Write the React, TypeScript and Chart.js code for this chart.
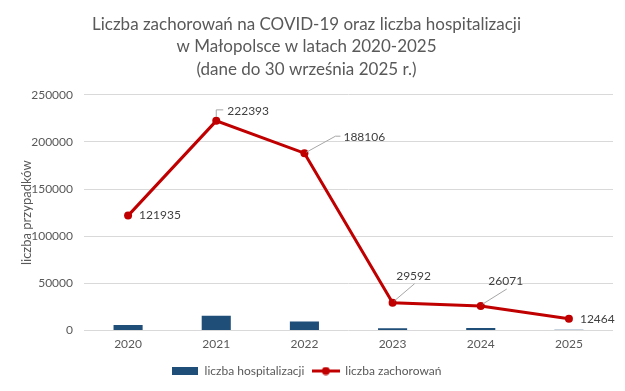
import React, { useEffect, useRef } from "react";
import { Chart, registerables } from "chart.js";

Chart.register(...registerables);

const years = ["2020", "2021", "2022", "2023", "2024", "2025"];
const hospitalizations = [6000, 15800, 9600, 2600, 2700, 800];
const cases = [121935, 222393, 188106, 29592, 26071, 12464];
const yMin = 0;
const yMax = 250000;
const yStep = 50000;
const titleLines = [
  "Liczba zachorowań na COVID-19 oraz liczba hospitalizacji",
  "w Małopolsce w latach 2020-2025",
  "(dane do 30 września 2025 r.)",
];
const yAxisTitle = "liczba przypadków";
const hospLabel = "liczba hospitalizacji";
const casesLabel = "liczba zachorowań";

// label placement (offsets in px from the point): text anchor + leader line
const labelPlacement = [
  { dx: 11, dy: 0, align: "left", leader: null },
  { dx: 11, dy: -10, align: "left", leader: [[0, -4], [0, -11], [7, -11]] },
  { dx: 39, dy: -16, align: "left", leader: [[2, -1], [31, -17], [36, -17]] },
  { dx: 21, dy: -27, align: "center", leader: [[2, -2], [22, -19]] },
  { dx: 25, dy: -25, align: "center", leader: [[2, -2], [26, -17]] },
  { dx: 11, dy: 0, align: "left", leader: null },
];

const FONT = "Lato, 'Open Sans', sans-serif";
const BLUE = "#1f4e79";
const RED = "#c00000";
const GREY_TEXT = "#595959";

const dataLabelPlugin = {
  id: "dataLabels",
  afterDatasetsDraw(chart: any) {
    const meta = chart.getDatasetMeta(1);
    const ctx = chart.ctx;
    ctx.save();
    ctx.font = `12px ${FONT}`;
    ctx.fillStyle = "#404040";
    ctx.textBaseline = "middle";
    meta.data.forEach((pt: any, i: number) => {
      const p = labelPlacement[i];
      if (p.leader) {
        ctx.beginPath();
        ctx.strokeStyle = "#a6a6a6";
        ctx.lineWidth = 1;
        p.leader.forEach((o: number[], k: number) => {
          if (k === 0) ctx.moveTo(pt.x + o[0], pt.y + o[1]);
          else ctx.lineTo(pt.x + o[0], pt.y + o[1]);
        });
        ctx.stroke();
      }
      ctx.textAlign = p.align as CanvasTextAlign;
      ctx.fillText(String(cases[i]), pt.x + p.dx, pt.y + p.dy);
    });
    ctx.restore();
  },
};

function makeBoxImage() {
  const c = document.createElement("canvas");
  c.width = 26;
  c.height = 8;
  const g = c.getContext("2d")!;
  g.fillStyle = BLUE;
  g.fillRect(0, 0, 26, 8);
  return c;
}

function makeLineImage() {
  const c = document.createElement("canvas");
  c.width = 28;
  c.height = 9;
  const g = c.getContext("2d")!;
  g.strokeStyle = RED;
  g.lineWidth = 3;
  g.beginPath();
  g.moveTo(0, 4.5);
  g.lineTo(28, 4.5);
  g.stroke();
  g.fillStyle = RED;
  g.beginPath();
  g.arc(14, 4.5, 4, 0, Math.PI * 2);
  g.fill();
  return c;
}

export default function App() {
  const ref = useRef<HTMLCanvasElement>(null);
  useEffect(() => {
    document.body.style.margin = "0";
    const boxImg = makeBoxImage();
    const lineImg = makeLineImage();
    const chart = new Chart(ref.current!, {
      type: "bar",
      data: {
        labels: years,
        datasets: [
          {
            type: "bar",
            label: hospLabel,
            data: hospitalizations,
            backgroundColor: BLUE,
            categoryPercentage: 1,
            barPercentage: 0.33,
            order: 2,
          },
          {
            type: "line",
            label: casesLabel,
            data: cases,
            borderColor: RED,
            backgroundColor: RED,
            borderWidth: 3,
            pointRadius: 4,
            pointBackgroundColor: RED,
            pointBorderWidth: 0,
            tension: 0,
            order: 1,
          } as any,
        ],
      },
      options: {
        animation: false,
        responsive: false,
        layout: { padding: { left: 0, right: 12, top: 0, bottom: 4 } },
        plugins: {
          title: {
            display: true,
            text: titleLines,
            color: GREY_TEXT,
            font: { family: FONT, size: 17, weight: "normal", lineHeight: 1.33 },
            padding: { top: 13, bottom: 14 },
          },
          legend: {
            position: "bottom",
            labels: {
              usePointStyle: true,
              pointStyleWidth: 27,
              boxHeight: 8,
              color: GREY_TEXT,
              font: { family: FONT, size: 12 },
              padding: 8,
              generateLabels: () => [
                { text: hospLabel, pointStyle: boxImg, fillStyle: BLUE, strokeStyle: BLUE, lineWidth: 0, hidden: false, datasetIndex: 0, fontColor: GREY_TEXT },
                { text: casesLabel, pointStyle: lineImg, fillStyle: RED, strokeStyle: RED, lineWidth: 0, hidden: false, datasetIndex: 1, fontColor: GREY_TEXT },
              ] as any,
            },
          },
          tooltip: { enabled: false },
        },
        scales: {
          x: {
            grid: { display: false, drawTicks: false },
            border: { display: false },
            ticks: { color: GREY_TEXT, font: { family: FONT, size: 12 }, padding: 6 },
          },
          y: {
            min: yMin,
            max: yMax,
            afterFit: (s: any) => {
              s.width = 84;
            },
            grid: { color: "#d9d9d9", drawTicks: false },
            border: { display: false },
            ticks: {
              stepSize: yStep,
              color: GREY_TEXT,
              font: { family: FONT, size: 12 },
              padding: 11,
              callback: (v: any) => String(v),
            },
            title: {
              display: true,
              text: yAxisTitle,
              color: GREY_TEXT,
              font: { family: FONT, size: 13 },
              padding: { top: 19, bottom: 0 },
            },
          },
        },
      },
      plugins: [dataLabelPlugin],
    });
    return () => chart.destroy();
  }, []);
  return (
    <div style={{ width: 625, height: 391, background: "#fff" }}>
      <canvas ref={ref} width={625} height={391} />
    </div>
  );
}
